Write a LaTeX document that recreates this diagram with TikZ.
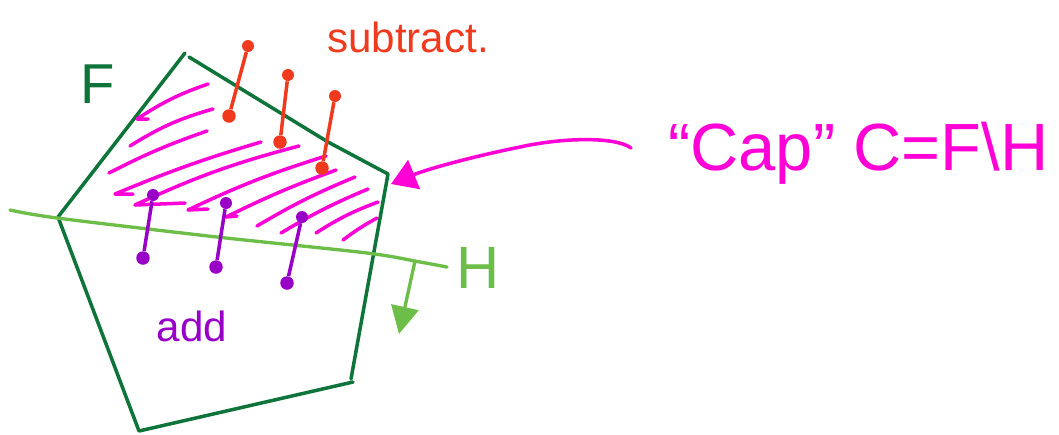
\documentclass[tikz,border=0pt]{standalone}
\usepackage{fontspec}
\setmainfont{Liberation Sans}
\usetikzlibrary{arrows.meta}
\definecolor{facetgreen}{RGB}{14,116,58}
\definecolor{hypgreen}{RGB}{108,190,72}
\definecolor{capmag}{RGB}{255,0,214}
\definecolor{subred}{RGB}{240,58,30}
\definecolor{addpurple}{RGB}{152,0,200}
\tikzset{
  facet/.style={
    draw = facetgreen,
    line width = 2pt,
    line cap = round,
    line join = round
  },
  hyper/.style={
    draw = hypgreen,
    line width = 1.9pt,
    line cap = round
  },
  hatch/.style={
    draw = capmag,
    line width = 2pt,
    line cap = round,
    line join = round
  },
  subdot/.style={
    circle,
    fill = subred,
    inner sep = 0pt,
    minimum size = 0.27cm
  },
  adddot/.style={
    circle,
    fill = addpurple,
    inner sep = 0pt,
    minimum size = 0.27cm
  },
  subline/.style={
    draw = subred,
    line width = 2pt
  },
  addline/.style={
    draw = addpurple,
    line width = 2pt
  },
  hand/.style={
    inner sep = 0pt,
    font = \fontsize{#1}{#1}\selectfont
  }
}

\begin{document}
\begin{tikzpicture}[x=0.02cm, y=-0.02cm]
  \useasboundingbox (0,0) rectangle (1059,434);

  % the facet F
  \coordinate (ftop) at (185,53);
  \coordinate (frgt) at (388,174);
  \coordinate (fbrt) at (353,382);
  \coordinate (fbot) at (139,431);
  \coordinate (flft) at (58,217);
  \draw[facet] (flft) -- (ftop);
  \draw[facet] (189,57) -- (328,142) -- (frgt) -- (351,379);
  \draw[facet] (fbrt) -- (fbot) -- (flft);
  \node[hand=32, text=facetgreen] (flabel) at (98,84) {F};

  % the hyperplane H
  \draw[hyper] plot[smooth] coordinates {(10,210) (57,218) (217,237) (367,253) (420,262) (447,267)};
  \coordinate (hfoot) at (415,261);
  \coordinate (hnorm) at (399,334);
  \draw[hyper, -{Triangle[length=0.55cm, width=0.55cm]}] (hfoot) -- (hnorm);
  \node[hand=34, text=hypgreen] (hlabel) at (478,268) {H};

  % hatching of the cap
  \draw[hatch] (208,84) to[bend right=7] (137,119) -- (148,119);
  \draw[hatch] (213,109) to[bend right=8] (130,146);
  \draw[hatch] (207,131) to[bend right=4] (109,173);
  \draw[hatch] (261,142) to[bend right=3] (115,194) -- (133,194);
  \draw[hatch] (299,146) to[bend right=5] (135,205) -- (185,203);
  \draw[hatch] (326,156) to[bend right=4] (188,210) -- (208,209);
  \draw[hatch] (336,170) to[bend right=3] (226,217) -- (237,216);
  \draw[hatch] (355,177) to[bend right=4] (257,226);
  \draw[hatch] (368,189) to[bend right=4] (281,233);
  \draw[hatch] (378,202) to[bend right=6] (316,233);
  \draw[hatch] (377,218) to[bend right=4] (343,240);

  % subtracted points
  \node[subdot] (s1b) at (229,116) {};
  \node[subdot, minimum size=0.24cm] (s1t) at (248,46) {};
  \node[subdot] (s2b) at (280,142) {};
  \node[subdot, minimum size=0.24cm] (s2t) at (288,75) {};
  \node[subdot] (s3b) at (322,168) {};
  \node[subdot, minimum size=0.24cm] (s3t) at (335,96) {};
  \draw[subline] (s1b) -- (s1t);
  \draw[subline] (s2b) -- (s2t);
  \draw[subline] (s3b) -- (s3t);
  \node[hand=24, text=subred] (sublabel) at (408,37) {subtract.};

  % added points
  \node[adddot] (a1b) at (143,258) {};
  \node[adddot, minimum size=0.24cm] (a1t) at (153,195) {};
  \node[adddot] (a2b) at (216,267) {};
  \node[adddot, minimum size=0.24cm] (a2t) at (226,203) {};
  \node[adddot] (a3b) at (287,283) {};
  \node[adddot, minimum size=0.24cm] (a3t) at (302,217) {};
  \draw[addline] (a1b) -- (a1t);
  \draw[addline] (a2b) -- (a2t);
  \draw[addline] (a3b) -- (a3t);
  \node[hand=24, text=addpurple] (addlabel) at (192,326) {add};

  % the cap label and its arrow
  \coordinate (capfrom) at (631,148);
  \coordinate (capto) at (391,184);
  \draw[hatch, -{Triangle[length=0.5cm, width=0.62cm]}] (capfrom) .. controls (615,136) and (560,138) .. (520,147) .. controls (480,155) and (430,168) .. (capto);
  \node[hand=38, text=capmag, anchor=base west] (caplabel) at (668,170) {“Cap” C=F\textbackslash H};
\end{tikzpicture}
\end{document}
